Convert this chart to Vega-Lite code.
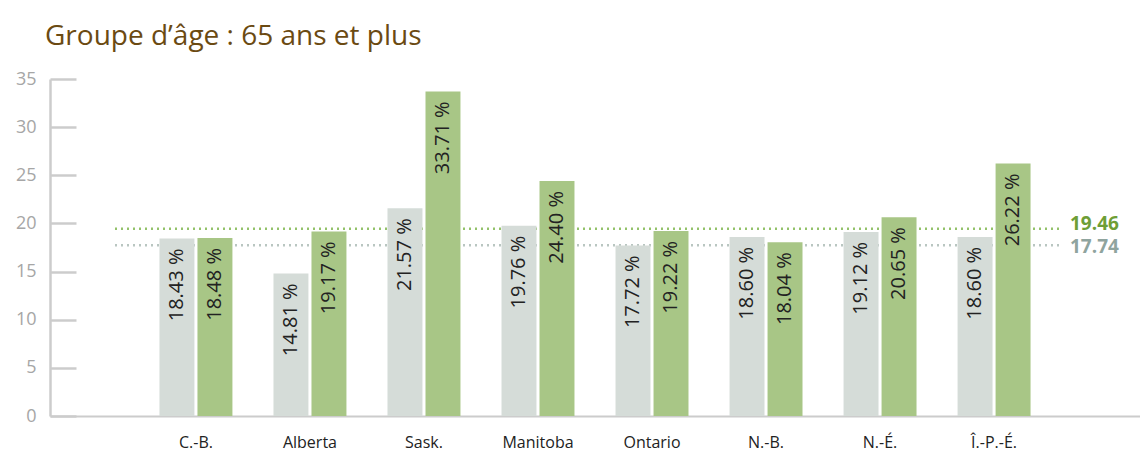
{
  "$schema": "https://vega.github.io/schema/vega-lite/v6.json",
  "autosize": "none",
  "width": 1090,
  "height": 337,
  "padding": {"left": 50, "top": 79, "right": 0, "bottom": 41},
  "background": "white",
  "title": {
    "text": "Groupe d’âge : 65 ans et plus",
    "anchor": "start",
    "frame": "group",
    "font": "Open Sans",
    "fontSize": 28,
    "fontWeight": "normal",
    "color": "#6b4a12",
    "dx": -5,
    "offset": 19
  },
  "config": {
    "view": {"stroke": null},
    "font": "Open Sans"
  },
  "resolve": {"scale": {"color": "independent"}},
  "datasets": {
    "bars": [
      {"prov": "C.-B.", "series": "a", "value": 18.43},
      {"prov": "C.-B.", "series": "b", "value": 18.48},
      {"prov": "Alberta", "series": "a", "value": 14.81},
      {"prov": "Alberta", "series": "b", "value": 19.17},
      {"prov": "Sask.", "series": "a", "value": 21.57},
      {"prov": "Sask.", "series": "b", "value": 33.71},
      {"prov": "Manitoba", "series": "a", "value": 19.76},
      {"prov": "Manitoba", "series": "b", "value": 24.40},
      {"prov": "Ontario", "series": "a", "value": 17.72},
      {"prov": "Ontario", "series": "b", "value": 19.22},
      {"prov": "N.-B.", "series": "a", "value": 18.60},
      {"prov": "N.-B.", "series": "b", "value": 18.04},
      {"prov": "N.-É.", "series": "a", "value": 19.12},
      {"prov": "N.-É.", "series": "b", "value": 20.65},
      {"prov": "Î.-P.-É.", "series": "a", "value": 18.60},
      {"prov": "Î.-P.-É.", "series": "b", "value": 26.22}
    ],
    "refs": [
      {"series": "b", "value": 19.46},
      {"series": "a", "value": 17.74}
    ]
  },
  "layer": [
    {
      "data": {"name": "refs"},
      "mark": {"type": "rule", "strokeDash": [2, 4], "strokeWidth": 2.5, "x": 65, "x2": 1012},
      "encoding": {
        "y": {"field": "value", "type": "quantitative", "scale": {"domain": [0, 35]}},
        "color": {"field": "series", "type": "nominal", "scale": {"domain": ["a", "b"], "range": ["#b9c6c1", "#93c26a"]}, "legend": null}
      }
    },
    {
      "data": {"name": "refs"},
      "transform": [{"filter": "datum.series === 'b'"}],
      "mark": {"type": "text", "x": 1020, "align": "left", "baseline": "middle", "dy": -5, "fontSize": 19, "fontWeight": "bold", "font": "Open Sans", "color": "#6e9e36"},
      "encoding": {
        "y": {"field": "value", "type": "quantitative"},
        "text": {"field": "value", "type": "quantitative", "format": ".2f"}
      }
    },
    {
      "data": {"name": "refs"},
      "transform": [{"filter": "datum.series === 'a'"}],
      "mark": {"type": "text", "x": 1020, "align": "left", "baseline": "middle", "dy": 2, "fontSize": 19, "fontWeight": "bold", "font": "Open Sans", "color": "#8fa49e"},
      "encoding": {
        "y": {"field": "value", "type": "quantitative"},
        "text": {"field": "value", "type": "quantitative", "format": ".2f"}
      }
    },
    {
      "data": {"name": "bars"},
      "layer": [
        {
          "mark": {"type": "bar"},
          "encoding": {
            "color": {"field": "series", "type": "nominal", "scale": {"domain": ["a", "b"], "range": ["#d5dcd8", "#a8c686"]}, "legend": null}
          }
        },
        {
          "mark": {"type": "text", "angle": -90, "align": "right", "baseline": "middle", "dx": -10, "fontSize": 20, "color": "#222222", "font": "Open Sans", "text": {"expr": "format(datum.value, '.2f') + ' %'"}}
        }
      ],
      "encoding": {
        "x": {
          "field": "prov", "type": "nominal", "sort": null,
          "scale": {"paddingInner": 0.36, "paddingOuter": 0.96},
          "axis": {"title": null, "labelAngle": 0, "ticks": false, "domainColor": "#cccccc", "domainWidth": 2, "labelFontSize": 16, "labelColor": "#222222", "labelPadding": 18, "labelFont": "Open Sans"}
        },
        "xOffset": {"field": "series", "type": "nominal", "scale": {"paddingInner": 0.08, "paddingOuter": 0}},
        "y": {
          "field": "value", "type": "quantitative",
          "scale": {"domain": [0, 35]},
          "axis": {"title": null, "values": [0, 5, 10, 15, 20, 25, 30, 35], "grid": false, "domainColor": "#cccccc", "domainWidth": 2.5, "tickColor": "#cccccc", "tickWidth": 2.5, "tickSize": -26, "labelFontSize": 18, "labelColor": "#a6a6a6", "labelPadding": 40, "labelFont": "Open Sans"}
        }
      }
    }
  ]
}
